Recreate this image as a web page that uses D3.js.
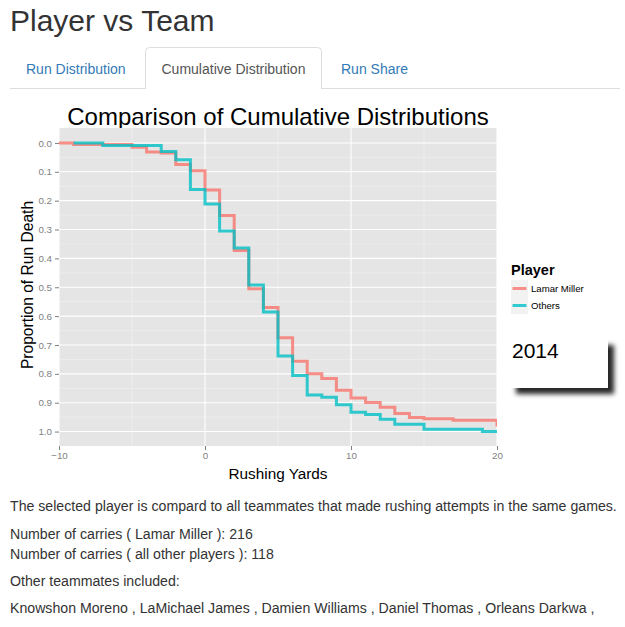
<!DOCTYPE html>
<html>
<head>
<meta charset="utf-8">
<script src="https://cdn.jsdelivr.net/npm/d3@7"></script>
<style>
  html, body { margin: 0; padding: 0; background: #fff; }
  svg { display: block; font-family: "Liberation Sans", Arial, Helvetica, sans-serif; }
</style>
</head>
<body>
<svg id="page" width="625" height="627"></svg>
<script>
// ---------------- data ----------------
const seriesNames = ["Lamar Miller", "Others"];
const seriesColors = ["#F8766D", "#00BFC4"];

const millerYards = [-10, -9, -5, -4, -3, -2, -1, 0, 1, 2, 3, 4, 5, 6, 7, 8, 9, 10, 11, 12, 13, 14, 15, 17, 20, 22];
const millerProp  = [0, 0.005, 0.015, 0.031, 0.035, 0.075, 0.096, 0.163, 0.251, 0.373, 0.505, 0.570, 0.675, 0.756, 0.800, 0.816, 0.857, 0.884, 0.899, 0.916, 0.9375, 0.951, 0.956, 0.961, 0.977, 0.977];

const othersYards = [-9, -7, -3, -2, -1, 0, 1, 2, 3, 4, 5, 6, 7, 8, 9, 10, 11, 12, 13, 15, 19, 20];
const othersProp  = [0, 0.0085, 0.030, 0.058, 0.161, 0.212, 0.305, 0.364, 0.492, 0.586, 0.738, 0.806, 0.873, 0.881, 0.907, 0.933, 0.941, 0.957, 0.975, 0.992, 1.0, 1.0];

const xTicks = [-10, 0, 10, 20];
const xMinor = [-5, 5, 15];
const yTicks = [0, 0.1, 0.2, 0.3, 0.4, 0.5, 0.6, 0.7, 0.8, 0.9, 1.0];
const yMinor = [0.05, 0.15, 0.25, 0.35, 0.45, 0.55, 0.65, 0.75, 0.85, 0.95];

const tabLabels = ["Run Distribution", "Cumulative Distribution", "Run Share"];
const bodyLines = [
  "The selected player is compard to all teammates that made rushing attempts in the same games.",
  "Number of carries ( Lamar Miller ): 216",
  "Number of carries ( all other players ): 118",
  "Other teammates included:",
  "Knowshon Moreno , LaMichael James , Damien Williams , Daniel Thomas , Orleans Darkwa ,"
];
const yearLabel = "2014";

// ---------------- page ----------------
const svg = d3.select("#page");

svg.append("text").attr("x", 10).attr("y", 31)
  .attr("font-size", 30).attr("fill", "#333").text("Player vs Team");

// tabs
svg.append("line").attr("x1", 10).attr("x2", 620).attr("y1", 88.5).attr("y2", 88.5)
  .attr("stroke", "#ddd");
svg.append("path")
  .attr("d", "M145.5,89 L145.5,51.5 Q145.5,47.5 149.5,47.5 L317.5,47.5 Q321.5,47.5 321.5,51.5 L321.5,89")
  .attr("fill", "#fff").attr("stroke", "#ddd");
const tabX = [26, 161.5, 341];
tabLabels.forEach((t, i) => {
  svg.append("text").attr("x", tabX[i]).attr("y", 73.5).attr("font-size", 14)
    .attr("fill", i === 1 ? "#555" : "#337ab7").text(t);
});

// ---------------- chart ----------------
const x = d3.scaleLinear().domain([-10, 20]).range([59, 497]);
const y = d3.scaleLinear().domain([-0.05, 1.05]).range([128.5, 446]);

const panelX = 59, panelW = 438, panelY = 128, panelH = 318;

svg.append("text").attr("x", (59 + 497) / 2).attr("y", 124.5)
  .attr("text-anchor", "middle").attr("font-size", 24).attr("fill", "#000")
  .text("Comparison of Cumulative Distributions");

svg.append("rect").attr("x", panelX).attr("y", panelY).attr("width", panelW).attr("height", panelH)
  .attr("fill", "#E5E5E5");

const grid = svg.append("g");
grid.selectAll(".ymin").data(yMinor).join("line")
  .attr("x1", panelX).attr("x2", panelX + panelW)
  .attr("y1", d => y(d)).attr("y2", d => y(d))
  .attr("stroke", "#F2F2F2").attr("stroke-width", 0.6);
grid.selectAll(".xmin").data(xMinor).join("line")
  .attr("y1", panelY).attr("y2", panelY + panelH)
  .attr("x1", d => x(d)).attr("x2", d => x(d))
  .attr("stroke", "#F2F2F2").attr("stroke-width", 0.6);
grid.selectAll(".ymaj").data(yTicks).join("line")
  .attr("x1", panelX).attr("x2", panelX + panelW)
  .attr("y1", d => y(d)).attr("y2", d => y(d))
  .attr("stroke", "#fff").attr("stroke-width", 1.1);
grid.selectAll(".xmaj").data(xTicks).join("line")
  .attr("y1", panelY).attr("y2", panelY + panelH)
  .attr("x1", d => x(d)).attr("x2", d => x(d))
  .attr("stroke", "#fff").attr("stroke-width", 1.1);

svg.append("clipPath").attr("id", "clip").append("rect")
  .attr("x", panelX).attr("y", panelY).attr("width", panelW).attr("height", panelH);

const line = d3.line().x(d => x(d[0])).y(d => y(d[1])).curve(d3.curveStepAfter);
const series = [
  d3.zip(millerYards, millerProp),
  d3.zip(othersYards, othersProp)
];
const lines = svg.append("g").attr("clip-path", "url(#clip)");
series.forEach((s, i) => {
  lines.append("path").datum(s).attr("d", line)
    .attr("fill", "none").attr("stroke", seriesColors[i]).attr("stroke-opacity", 0.8)
    .attr("stroke-width", 3).attr("stroke-linejoin", "miter").attr("stroke-linecap", "butt");
});

// axes
const xAxis = d3.axisBottom(x).tickValues(xTicks).tickSize(4).tickPadding(2).tickFormat(d3.format("d"));
const gx = svg.append("g").attr("transform", `translate(0,${panelY + panelH})`).call(xAxis);
const yAxis = d3.axisLeft(y).tickValues(yTicks).tickSize(4).tickPadding(3).tickFormat(d3.format(".1f"));
const gy = svg.append("g").attr("transform", `translate(${panelX},0)`).call(yAxis);
[gx, gy].forEach(g => {
  g.select(".domain").remove();
  g.selectAll(".tick line").attr("stroke", "#7F7F7F");
  g.selectAll(".tick text").attr("fill", "#7F7F7F").attr("font-size", 9.8)
    .attr("font-family", "Liberation Sans, Arial, sans-serif");
});

svg.append("text").attr("x", 278).attr("y", 478.5).attr("text-anchor", "middle")
  .attr("font-size", 15.3).attr("fill", "#000").text("Rushing Yards");
svg.append("text").attr("transform", "translate(33,285) rotate(-90)").attr("text-anchor", "middle")
  .attr("font-size", 15.6).attr("fill", "#000").text("Proportion of Run Death");

// legend
const lg = svg.append("g");
lg.append("text").attr("x", 511).attr("y", 275).attr("font-size", 14.5).attr("font-weight", "bold")
  .attr("fill", "#000").text("Player");
seriesNames.forEach((n, i) => {
  const ky = 280 + i * 17;
  lg.append("rect").attr("x", 511).attr("y", ky).attr("width", 17).attr("height", 17).attr("fill", "#F2F2F2");
  lg.append("line").attr("x1", 512.5).attr("x2", 526.5).attr("y1", ky + 8.5).attr("y2", ky + 8.5)
    .attr("stroke", seriesColors[i]).attr("stroke-opacity", 0.8).attr("stroke-width", 3);
  lg.append("text").attr("x", 531).attr("y", ky + 12).attr("font-size", 9.6).attr("fill", "#000").text(n);
});

// year box with shadow
const defs = svg.append("defs");
const f = defs.append("filter").attr("id", "shadow").attr("x", "-20%").attr("y", "-20%")
  .attr("width", "150%").attr("height", "160%");
f.append("feDropShadow").attr("dx", 6).attr("dy", 6).attr("stdDeviation", 2.5)
  .attr("flood-color", "#000").attr("flood-opacity", 0.85);
svg.append("rect").attr("x", 510).attr("y", 339).attr("width", 98).attr("height", 49)
  .attr("fill", "#fff").attr("filter", "url(#shadow)");
svg.append("text").attr("x", 512).attr("y", 358).attr("font-size", 21).attr("fill", "#000").text(yearLabel);

// body text
const bodyY = [511, 539, 559, 586, 613];
bodyLines.forEach((t, i) => {
  svg.append("text").attr("x", 10).attr("y", bodyY[i]).attr("font-size", 14.15).attr("fill", "#333").text(t);
});
</script>
</body>
</html>
